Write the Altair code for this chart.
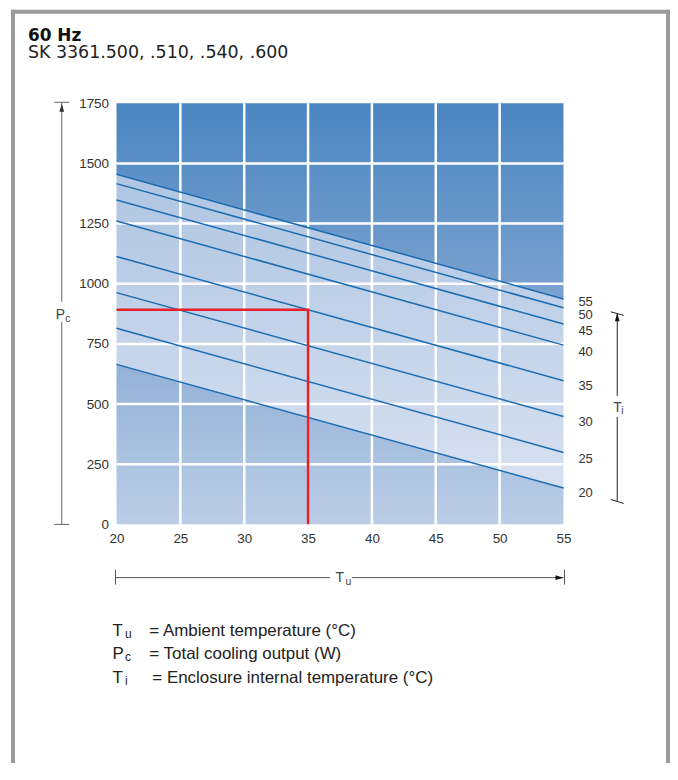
import altair as alt
import pandas as pd

# ---------------- data ----------------
ambient_range = [20, 55]                       # Tu (deg C) at the two ends of each line
internal_temps = [55, 50, 45, 40, 35, 30, 25, 20]   # Ti curves
power_at_20 = [1455, 1416, 1348, 1261, 1113, 963, 815, 665]   # Pc (W) at Tu = 20
power_at_55 = [937, 900, 833, 745, 597, 448, 299, 151]        # Pc (W) at Tu = 55
label_pos = [923, 872, 803, 716, 575, 426, 271, 132]          # where the Ti labels sit (W)
x_ticks = [20, 25, 30, 35, 40, 45, 50, 55]
y_ticks = [0, 250, 500, 750, 1000, 1250, 1500, 1750]
example_tu = [20, 35, 35]
example_pc = [892, 892, 0]

FONT = "Liberation Sans"
HFONT = "DejaVu Sans"
W, H = 449, 423

# ---------------- tables ----------------
rows = []
for t, a, b in zip(internal_temps, power_at_20, power_at_55):
    rows.append({"Ti": t, "Tu": ambient_range[0], "Pc": a})
    rows.append({"Ti": t, "Tu": ambient_range[1], "Pc": b})
lines_df = pd.DataFrame(rows)

zones_df = pd.DataFrame({
    "Tu": ambient_range,
    "top": [power_at_20[0], power_at_55[0]],
    "bot": [power_at_20[-1], power_at_55[-1]],
    "max": [y_ticks[-1]] * 2,
    "zero": [0, 0],
})
labels_df = pd.DataFrame({"Tu": [ambient_range[1]] * len(internal_temps),
                          "Pc": label_pos, "Ti": internal_temps})
red_df = pd.DataFrame({"Tu": example_tu, "Pc": example_pc, "i": [0, 1, 2]})
xgrid_df = pd.DataFrame({"Tu": x_ticks[1:-1]})
ygrid_df = pd.DataFrame({"Pc": y_ticks[1:-1]})

xscale = alt.Scale(domain=[20, 55], nice=False, zero=False)
yscale = alt.Scale(domain=[0, 1750], nice=False, zero=False)
xaxis = alt.Axis(values=x_ticks, title=None, grid=False, domain=False, ticks=False,
                 labelFontSize=13.5, labelColor="#333", labelFont=FONT, labelPadding=7,
                 labelFlush=False, labelOverlap=False, format="d")
yaxis = alt.Axis(values=y_ticks, title=None, grid=False, domain=False, ticks=False,
                 labelFontSize=13.5, labelColor="#333", labelFont=FONT, labelPadding=8,
                 labelFlush=False, labelOverlap=False, format="d")


def X(f="Tu"):
    return alt.X(f"{f}:Q", scale=xscale, axis=xaxis)


def Y(f="Pc"):
    return alt.Y(f"{f}:Q", scale=yscale, axis=yaxis)


def grad(c0, c1):
    return alt.LinearGradient(gradient="linear",
                              stops=[alt.GradientStop(offset=0, color=c0),
                                     alt.GradientStop(offset=1, color=c1)],
                              x1=0, x2=0, y1=0, y2=1)


zone_top = alt.Chart(zones_df).mark_area(color=grad("#4a86c1", "#7ba2cf")).encode(
    x=X(), y=Y("max"), y2="top:Q")
zone_mid = alt.Chart(zones_df).mark_area(color=grad("#afc5e2", "#d7e1f1")).encode(
    x=X(), y=Y("top"), y2="bot:Q")
zone_bot = alt.Chart(zones_df).mark_area(color=grad("#93b1d7", "#bccee7")).encode(
    x=X(), y=Y("bot"), y2="zero:Q")

xgrid = alt.Chart(xgrid_df).mark_rule(color="white", strokeWidth=2.5).encode(x=X())
ygrid = alt.Chart(ygrid_df).mark_rule(color="white", strokeWidth=2.5).encode(y=Y())

curves = alt.Chart(lines_df).mark_line(color="#1b6cb1", strokeWidth=1.5).encode(
    x=X(), y=Y(), detail="Ti:N")

red = alt.Chart(red_df).mark_line(color="#e8202a", strokeWidth=2.6, strokeJoin="miter").encode(
    x=X(), y=Y(), order="i:Q")

ti_labels = alt.Chart(labels_df).mark_text(align="left", baseline="middle", dx=15,
                                           fontSize=13, font=FONT, color="#333").encode(
    x=X(), y=Y(), text="Ti:N")


# ---------------- decorations (pixel positions relative to plot area) ----------------
def segs(data, color, width):
    df = pd.DataFrame(data, columns=["x", "x2", "y", "y2"])
    return alt.Chart(df).mark_rule(color=color, strokeWidth=width).encode(
        x=alt.X("x:Q", scale=None, axis=None), x2="x2:Q",
        y=alt.Y("y:Q", scale=None, axis=None), y2="y2:Q")


frame = segs([[-104, -104, -94, 700], [-106, 556, -92, -92], [554, 554, -94, 700]],
             "#9b9b9b", 4)
pc_line = segs([[-55, -55, -1, 199.5], [-55, -55, 219.5, 423],
                [-62.5, -47.5, -1, -1], [-62.5, -47.5, 423, 423]], "#666666", 1)
tu_line = segs([[-1, 214.5, 476.5, 476.5], [236.5, 449, 476.5, 476.5],
                [-1, -1, 468.5, 483.5], [450, 450, 468.5, 483.5]], "#555555", 1)
ti_line = segs([[503, 503, 211, 294], [503, 503, 315, 399.5],
                [496.5, 509.5, 209.5, 213], [496.5, 509.5, 398, 402]], "#222222", 1)

arrow_up = "M0,-1L0.6,1L-0.6,1Z"
arrow_right = "M1,0L-1,-0.6L-1,0.6Z"


def arrow(x, y, shape, color):
    return alt.Chart(pd.DataFrame({"x": [x], "y": [y]})).mark_point(
        shape=shape, size=64, filled=True, color=color, opacity=1, strokeWidth=0).encode(
        x=alt.X("x:Q", scale=None, axis=None), y=alt.Y("y:Q", scale=None, axis=None))


arrows = alt.layer(
    arrow(-55, 4.5, arrow_up, "#333"),
    arrow(503, 215, arrow_up, "#111"),
    arrow(445, 476.5, arrow_right, "#111"),
)


def txt(label, x, y, size, weight="normal", color="#222", font=FONT):
    return alt.Chart(pd.DataFrame({"t": [label]})).mark_text(
        align="left", baseline="alphabetic", fontSize=size, fontWeight=weight,
        font=font, color=color).encode(x=alt.value(x), y=alt.value(y), text="t:N")


texts = alt.layer(
    txt("60 Hz", -89, -63, 17, "bold", "#111", HFONT),
    txt("SK 3361.500, .510, .540, .600", -89, -45, 17.5, "normal", "#222", HFONT),
    # axis symbols
    txt("P", -61, 217, 14, color="#444"),
    txt("c", -51.5, 219.5, 10.5, color="#444"),
    txt("T", 220, 481, 14, color="#444"),
    txt("u", 230, 483.5, 10.5, color="#444"),
    txt("T", 499, 310, 14, color="#444"),
    txt("i", 507, 312.5, 10.5, color="#444"),
    # legend
    txt("T", -4, 535, 17), txt("u", 8.5, 537, 12),
    txt("= Ambient temperature (°C)", 33, 535, 17),
    txt("P", -4, 558.5, 17), txt("c", 8.5, 560.5, 12),
    txt("= Total cooling output (W)", 33, 558.5, 17),
    txt("T", -4, 582.5, 17), txt("i", 8.5, 584.5, 12),
    txt("= Enclosure internal temperature (°C)", 36, 582.5, 17),
)

chart = alt.layer(
    zone_bot, zone_mid, zone_top, xgrid, ygrid, curves, red, ti_labels,
    frame, pc_line, tu_line, ti_line, arrows, texts,
).properties(
    width=W, height=H,
    padding={"left": 109, "top": 94, "right": 107, "bottom": 238},
    autosize=alt.AutoSizeParams(type="none"),
    background="white",
).configure_view(stroke=None)

chart.save("out.html", embed_options={"renderer": "svg", "actions": False})
